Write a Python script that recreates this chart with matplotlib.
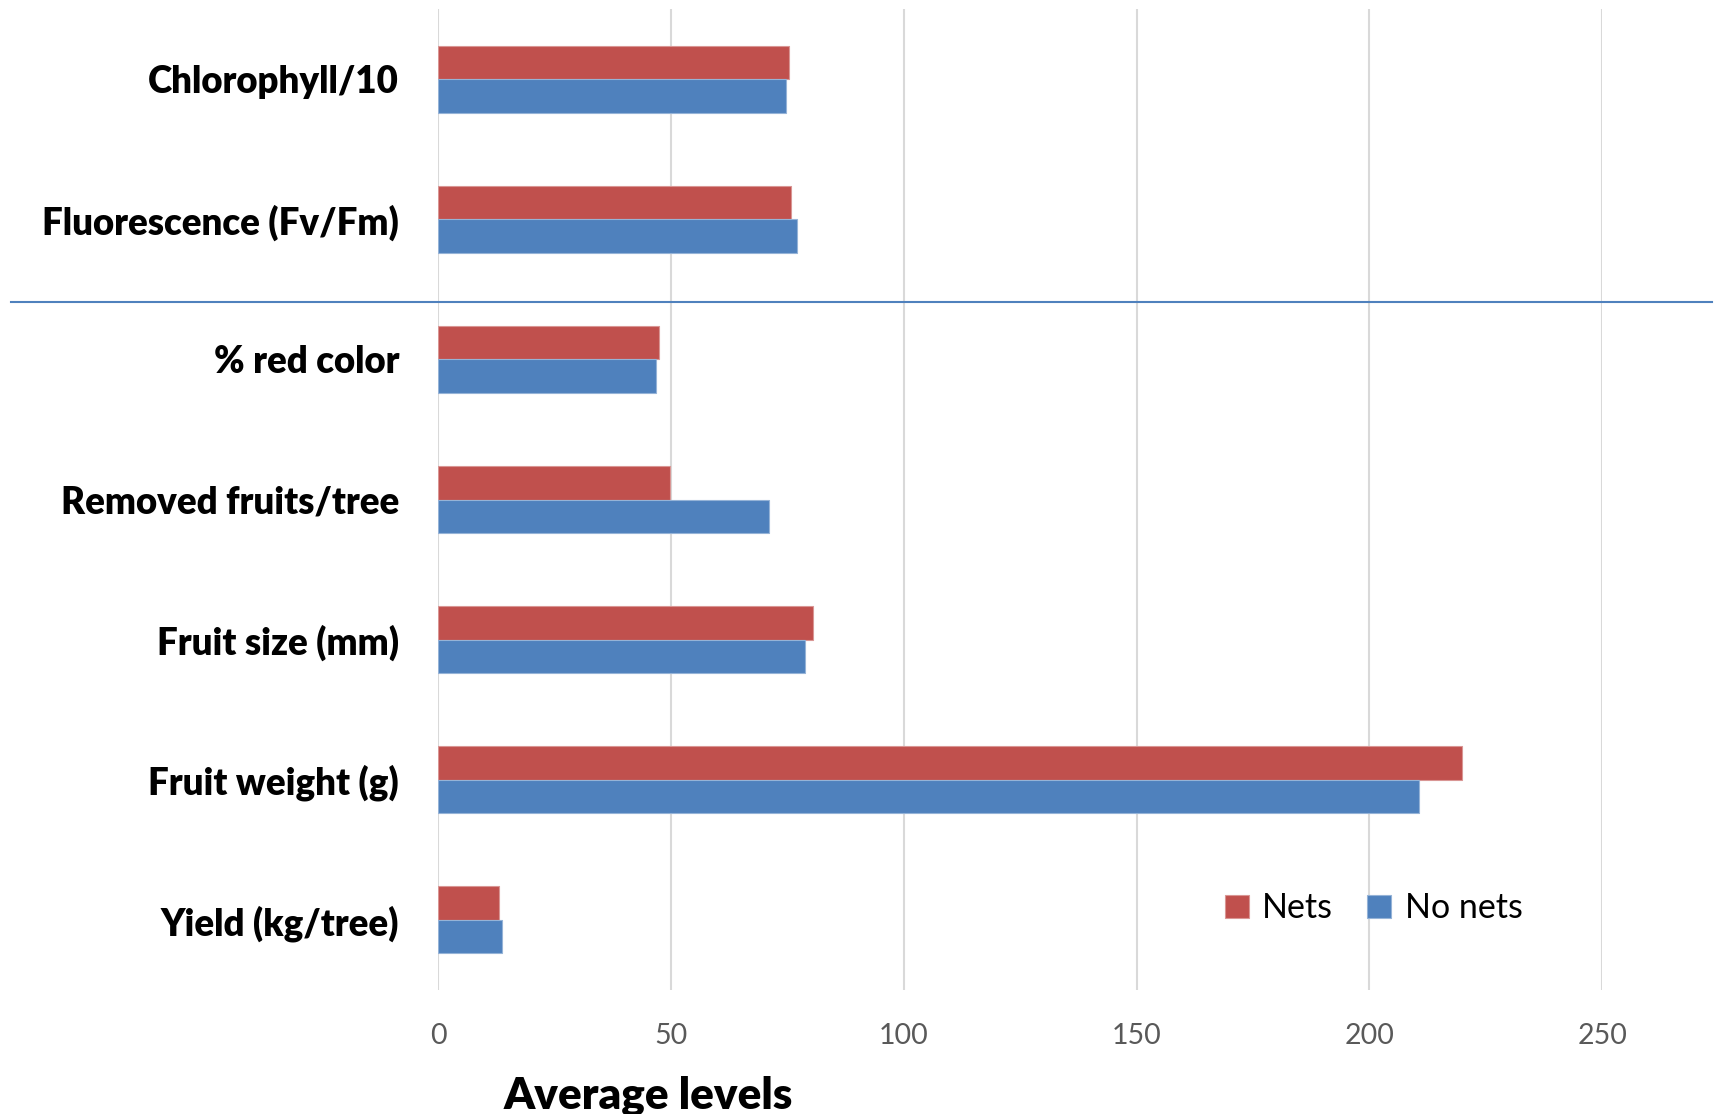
import matplotlib.pyplot as plt
from matplotlib.lines import Line2D
import numpy as np

# data, top to bottom as in the chart
categories = ["Chlorophyll/10", "Fluorescence (Fv/Fm)", "% red color",
              "Removed fruits/tree", "Fruit size (mm)", "Fruit weight (g)",
              "Yield (kg/tree)"]
nets = [75.4, 75.9, 47.4, 49.9, 80.5, 219.9, 13.2]
no_nets = [74.8, 77.0, 46.9, 71.0, 78.7, 210.7, 13.7]
x_ticks = [0, 50, 100, 150, 200, 250]

red = "#C0504D"
blue = "#4F81BD"

plt.rcParams['font.family'] = ['Lato', 'DejaVu Sans']

fig = plt.figure(figsize=(17.15, 11.14), dpi=100)
ax = fig.add_axes([0.2554, 0.1113, 0.6789, 0.8806])

y = np.arange(len(categories))
h = 0.239
ax.barh(y - h / 2, nets, height=h, color=red, edgecolor="#D99694", linewidth=0.8,
        label="Nets", zorder=3)
ax.barh(y + h / 2, no_nets, height=h, color=blue, edgecolor="#95B3D7", linewidth=0.8,
        label="No nets", zorder=3)

ax.set_ylim(len(categories) - 0.5, -0.5)
ax.set_xlim(0, 250)
ax.set_xticks(x_ticks)
ax.set_yticks(y)
ax.set_yticklabels(categories, fontsize=26.4, fontweight='heavy', color='black')
ax.tick_params(axis='y', length=0, pad=28)
ax.tick_params(axis='x', length=0, pad=24, labelsize=20.5, labelcolor='#595959')

ax.grid(axis='x', color='#D9D9D9', linewidth=1.5, zorder=0)
ax.set_axisbelow(True)
for s in ax.spines.values():
    s.set_visible(False)

# separator line between physiology and fruit measures
fig.add_artist(Line2D([0.0065, 0.998], [0.7292, 0.7292], color=blue, linewidth=1.5,
                      transform=fig.transFigure))

fig.legend(loc='center', bbox_to_anchor=(0.801, 0.1845), ncol=2, frameon=False,
           fontsize=24.5, handlelength=0.7, handleheight=0.7, handletextpad=0.4,
           columnspacing=1.0)

fig.text(0.378, 0.016, "Average levels", fontsize=31.7, fontweight='heavy',
         ha='center', va='center')

fig.savefig("out.png", dpi=100)
